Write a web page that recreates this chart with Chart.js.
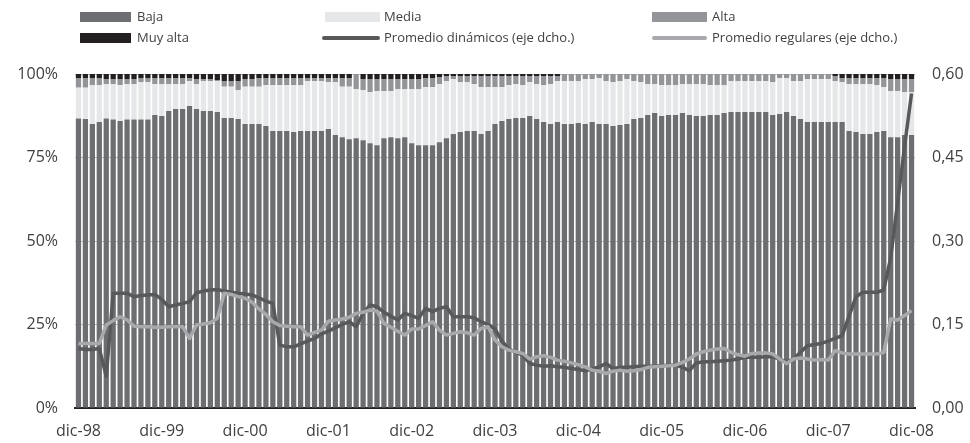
<!DOCTYPE html>
<html>
<head>
<meta charset="utf-8">
<script src="https://cdn.jsdelivr.net/npm/chart.js@4.4.1/dist/chart.umd.min.js"></script>
<style>
  body { margin: 0; background: #fff; font-family: "Open Sans", sans-serif; }
  #wrap { position: relative; width: 970px; height: 443px; }
  #leyenda div { position: absolute; }
  .caja { height: 10px; }
  .raya { height: 4px; border-radius: 2px; }
  .txt { font-size: 13px; color: #414042; line-height: 14px; white-space: nowrap; }
</style>
</head>
<body>
<div id="wrap">
  <canvas id="grafica"></canvas>
  <div id="leyenda"></div>
</div>
<script>
// meses dic-98 .. dic-08
const meses = ["dic", "ene", "feb", "mar", "abr", "may", "jun", "jul", "ago", "sep", "oct", "nov"];
const etiquetas = [];
for (let i = 0; i <= 120; i++) {
  const anio = 98 + Math.floor(i / 12) + (i % 12 === 0 ? 0 : 1);
  etiquetas.push(meses[i % 12] + "-" + String(anio % 100).padStart(2, "0"));
}

const baja = [
  86.7,86.5,85.0,85.6,86.7,86.4,85.9,86.4,86.4,86.4,86.4,87.7,
  87.4,88.9,89.5,89.5,90.4,89.5,88.9,88.9,88.6,86.8,86.8,86.5,
  85.0,85.0,85.0,84.4,82.9,82.9,82.9,82.6,82.9,82.9,82.9,82.9,
  83.5,81.7,81.1,80.5,80.8,80.2,79.3,78.7,80.8,81.1,80.8,81.1,
  79.3,78.7,78.7,78.7,79.6,80.8,82.0,82.6,82.9,82.9,82.0,82.9,
  85.0,85.9,86.5,86.8,86.8,87.4,86.5,85.6,85.0,85.6,85.0,85.0,
  85.3,85.0,85.6,85.0,85.0,84.4,84.7,85.0,86.5,86.8,87.7,88.3,
  87.4,87.7,87.7,88.3,87.7,87.4,87.4,87.7,87.7,88.3,88.6,88.6,
  88.6,88.6,88.6,88.6,87.7,88.0,88.6,87.4,86.5,85.6,85.6,85.6,
  85.6,85.6,85.6,82.9,82.6,82.0,82.0,82.6,82.9,81.1,81.1,81.7,
  81.7
];
const media = [
  9.2,9.4,11.7,11.1,10.3,10.6,10.8,10.6,10.6,11.2,11.2,9.3,
  9.6,8.1,7.5,7.5,7.5,7.5,9.0,9.0,9.3,9.4,9.4,8.7,
  11.2,11.2,11.2,12.3,13.8,13.8,13.8,14.1,13.8,15.0,15.0,15.0,
  14.1,15.9,15.1,15.7,14.7,15.0,15.3,16.2,14.1,13.8,14.7,14.4,
  16.2,16.8,17.4,17.4,17.4,17.1,16.5,15.0,14.7,14.1,14.1,13.2,
  11.1,10.2,10.2,10.2,9.9,10.2,10.5,11.1,12.0,12.3,12.9,12.9,
  12.6,13.5,12.9,13.8,12.9,13.2,13.2,13.5,11.4,10.8,9.3,8.7,
  9.3,9.0,9.0,8.7,9.3,9.6,9.6,9.0,9.0,8.4,9.3,9.3,
  9.3,9.3,9.3,9.3,9.9,10.8,10.2,10.5,11.4,12.9,12.9,12.9,
  12.9,12.3,12.0,14.1,14.4,15.0,15.0,14.1,13.2,13.8,13.8,12.9,
  12.9
];
const alta = [
  2.9,2.9,2.1,2.1,1.5,1.5,1.8,1.5,1.5,1.2,1.2,1.8,
  1.8,1.8,1.8,1.8,0.9,1.5,0.6,0.6,0.3,1.7,1.7,2.7,
  2.3,2.3,2.6,2.1,2.1,2.1,2.1,2.1,2.1,0.9,0.9,0.9,
  1.2,1.2,2.6,2.6,4.5,3.3,3.9,3.6,3.6,3.6,3.0,3.0,
  3.0,3.0,2.7,2.7,2.1,1.5,0.9,1.8,1.8,2.4,3.3,3.3,
  3.3,3.3,2.7,2.4,2.7,1.8,2.4,2.7,2.4,1.5,2.1,2.1,
  2.1,1.5,1.5,1.2,2.1,2.4,2.1,1.5,2.1,2.4,3.0,3.0,
  3.3,3.3,3.3,3.0,3.0,3.0,3.0,3.3,3.3,3.3,2.1,2.1,
  2.1,2.1,2.1,2.1,2.4,1.2,1.2,2.1,2.1,1.5,1.5,1.5,
  1.5,1.5,1.2,1.8,1.8,1.8,1.8,2.1,2.7,3.6,3.6,3.9,
  3.9
];
const muyAlta = [
  1.2,1.2,1.2,1.2,1.5,1.5,1.5,1.5,1.5,1.2,1.2,1.2,
  1.2,1.2,1.2,1.2,1.2,1.5,1.5,1.5,1.8,2.1,2.1,2.1,
  1.5,1.5,1.2,1.2,1.2,1.2,1.2,1.2,1.2,1.2,1.2,1.2,
  1.2,1.2,1.2,1.2,0,1.5,1.5,1.5,1.5,1.5,1.5,1.5,
  1.5,1.5,1.2,1.2,0.9,0.6,0.6,0.6,0.6,0.6,0.6,0.6,
  0.6,0.6,0.6,0.6,0.6,0.6,0.6,0.6,0.6,0.6,0,0,
  0,0,0,0,0,0,0,0,0,0,0,0,
  0,0,0,0,0,0,0,0,0,0,0,0,
  0,0,0,0,0,0,0,0,0,0,0,0,
  0,0.6,1.2,1.2,1.2,1.2,1.2,1.2,1.2,1.5,1.5,1.5,
  1.5
];
// eje derecho
const dinamicos = [
  0.107,0.105,0.105,0.107,0.057,0.206,0.206,0.206,0.200,0.202,0.203,0.204,
  0.195,0.182,0.185,0.188,0.191,0.207,0.210,0.212,0.213,0.210,0.208,0.206,
  0.205,0.203,0.198,0.192,0.188,0.113,0.110,0.110,0.115,0.120,0.125,0.133,
  0.138,0.144,0.150,0.155,0.146,0.170,0.185,0.182,0.172,0.165,0.158,0.170,
  0.166,0.161,0.179,0.173,0.179,0.182,0.164,0.164,0.164,0.162,0.155,0.150,
  0.142,0.120,0.106,0.100,0.095,0.080,0.077,0.075,0.076,0.074,0.073,0.071,
  0.069,0.067,0.070,0.074,0.080,0.071,0.073,0.073,0.074,0.075,0.075,0.075,
  0.076,0.077,0.077,0.073,0.067,0.081,0.083,0.083,0.084,0.085,0.086,0.088,
  0.091,0.091,0.091,0.092,0.092,0.088,0.083,0.088,0.100,0.112,0.114,0.116,
  0.120,0.125,0.130,0.165,0.200,0.208,0.208,0.208,0.212,0.270,0.370,0.470,
  0.565
];
const regulares = [
  0.116,0.116,0.116,0.116,0.149,0.157,0.164,0.158,0.147,0.146,0.146,0.145,
  0.145,0.146,0.146,0.146,0.125,0.149,0.151,0.153,0.161,0.206,0.204,0.200,
  0.197,0.190,0.178,0.168,0.155,0.148,0.147,0.146,0.146,0.131,0.136,0.140,
  0.156,0.158,0.160,0.163,0.170,0.172,0.176,0.174,0.152,0.145,0.138,0.131,
  0.142,0.142,0.148,0.155,0.140,0.131,0.134,0.137,0.135,0.131,0.143,0.146,
  0.122,0.110,0.104,0.101,0.098,0.088,0.092,0.094,0.091,0.086,0.084,0.081,
  0.078,0.074,0.068,0.066,0.062,0.066,0.068,0.066,0.067,0.069,0.073,0.074,
  0.075,0.076,0.077,0.082,0.088,0.097,0.101,0.104,0.106,0.107,0.100,0.096,
  0.093,0.098,0.099,0.099,0.097,0.088,0.080,0.088,0.090,0.088,0.086,0.087,
  0.086,0.103,0.099,0.097,0.097,0.097,0.097,0.097,0.100,0.160,0.158,0.166,
  0.175
];

const ticksIzq = [0, 25, 50, 75, 100];
const ticksDer = [0, 0.15, 0.30, 0.45, 0.60];

const colores = {
  baja: "#6d6e71", media: "#e6e7e8", alta: "#939598", muyAlta: "#231f20",
  dinamicos: "#58595b", regulares: "#a7a9ac"
};

// leyenda en html, tres columnas
const leyenda = [
  { nombre: "Baja", tipo: "caja", color: colores.baja, x: 80, w: 51, fila: 0, tx: 137 },
  { nombre: "Media", tipo: "caja", color: colores.media, x: 325, w: 55, fila: 0, tx: 384 },
  { nombre: "Alta", tipo: "caja", color: colores.alta, x: 652, w: 55, fila: 0, tx: 712 },
  { nombre: "Muy alta", tipo: "caja", color: colores.muyAlta, x: 80, w: 51, fila: 1, tx: 137 },
  { nombre: "Promedio dinámicos (eje dcho.)", tipo: "raya", color: colores.dinamicos, x: 322, w: 58, fila: 1, tx: 384 },
  { nombre: "Promedio regulares (eje dcho.)", tipo: "raya", color: colores.regulares, x: 652, w: 55, fila: 1, tx: 712 }
];
const divLeyenda = document.getElementById("leyenda");
for (let item of leyenda) {
  const yc = item.fila === 0 ? 17 : 38;
  const sw = document.createElement("div");
  sw.className = item.tipo;
  sw.style.left = item.x + "px";
  sw.style.width = item.w + "px";
  sw.style.top = (item.tipo === "caja" ? yc - 5 : yc - 2) + "px";
  sw.style.background = item.color;
  divLeyenda.appendChild(sw);
  const t = document.createElement("div");
  t.className = "txt";
  t.style.left = item.tx + "px";
  t.style.top = (yc - 8) + "px";
  t.textContent = item.nombre;
  divLeyenda.appendChild(t);
}

const fuente = { family: "'Open Sans', sans-serif", size: 16 };

function barra(label, data, color) {
  return {
    type: "bar", label: label, data: data, backgroundColor: color,
    yAxisID: "y", order: 2, stack: "s",
    barPercentage: 1, categoryPercentage: 0.76, borderWidth: 0
  };
}

new Chart(document.getElementById("grafica"), {
  data: {
    labels: etiquetas,
    datasets: [
      barra("Baja", baja, colores.baja),
      barra("Media", media, colores.media),
      barra("Alta", alta, colores.alta),
      barra("Muy alta", muyAlta, colores.muyAlta),
      {
        type: "line", label: "Promedio dinámicos (eje dcho.)", data: dinamicos,
        borderColor: colores.dinamicos, borderWidth: 3.5, pointRadius: 0,
        yAxisID: "y1", order: 1, tension: 0, borderJoinStyle: "round"
      },
      {
        type: "line", label: "Promedio regulares (eje dcho.)", data: regulares,
        borderColor: colores.regulares, borderWidth: 3.5, pointRadius: 0,
        yAxisID: "y1", order: 0, tension: 0, borderJoinStyle: "round"
      }
    ]
  },
  options: {
    responsive: true,
    maintainAspectRatio: false,
    animation: false,
    layout: { padding: { top: 74, left: 0, right: 0, bottom: 0 } },
    plugins: { legend: { display: false }, tooltip: { enabled: false } },
    scales: {
      x: {
        stacked: true,
        z: 1,
        grid: { display: false },
        border: { display: true, color: "#231f20", width: 2 },
        ticks: {
          autoSkip: false, maxRotation: 0, padding: 6, color: "#414042", font: fuente,
          callback: (v, i) => (i % 12 === 0 ? etiquetas[i] : "")
        },
        afterFit: (s) => { s.height = 35; }
      },
      y: {
        stacked: true,
        position: "left",
        min: 0, max: 100,
        z: 1,
        afterBuildTicks: (s) => { s.ticks = ticksIzq.map(v => ({ value: v })); },
        grid: {
          drawTicks: false, lineWidth: 1,
          color: (c) => (c.tick && c.tick.value === 0 ? "rgba(0,0,0,0)" : "rgba(167,169,172,0.8)")
        },
        border: { display: false },
        ticks: { padding: 17, color: "#414042", font: fuente, callback: (v) => v + "%" },
        afterFit: (s) => { s.width = 75; }
      },
      y1: {
        position: "right",
        min: 0, max: 0.6,
        afterBuildTicks: (s) => { s.ticks = ticksDer.map(v => ({ value: v })); },
        grid: { display: false, drawTicks: false },
        border: { display: false },
        ticks: { padding: 17, color: "#414042", font: fuente, callback: (v) => v.toFixed(2).replace(".", ",") },
        afterFit: (s) => { s.width = 55; }
      }
    }
  }
});
</script>
</body>
</html>
